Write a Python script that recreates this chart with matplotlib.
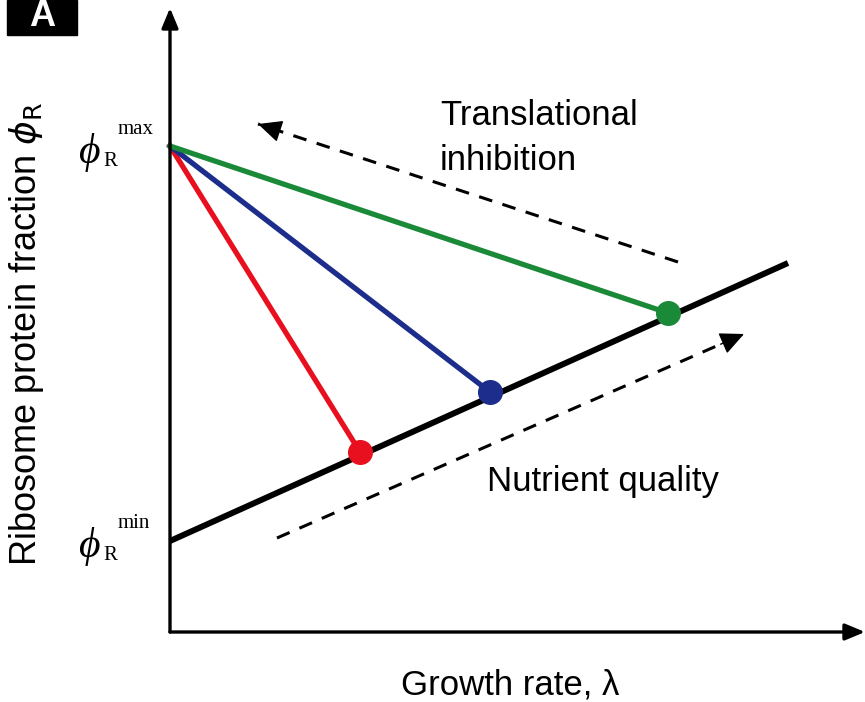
import matplotlib.pyplot as plt
from matplotlib.patches import Rectangle

# growth-law schematic: ribosome fraction vs growth rate
phi_max = 4.86
phi_min = 0.91
nutrient_line_x = [0.0, 6.18]
nutrient_line_y = [phi_min, 3.69]

# steady states reached under translational inhibition
state_colors = ["#e8101e", "#1c2d8c", "#1a8a38"]
state_x = [1.90, 3.20, 4.98]
state_y = [1.80, 2.40, 3.19]

# dashed guide arrows (tail -> head)
inhib_arrow = [(5.08, 3.70), (0.88, 5.08)]
nutrient_arrow = [(1.07, 0.94), (5.74, 2.98)]

plt.rcParams['font.family'] = ['Liberation Sans', 'DejaVu Sans']

fig = plt.figure(figsize=(8.65, 7.02), dpi=100)
ax = fig.add_axes([0, 0, 1, 1])
ax.set_xlim(-1.70, 6.95)
ax.set_ylim(-0.70, 6.32)
ax.axis("off")

# axes with arrowheads
ax.annotate("", xy=(6.95, 0), xytext=(0, 0),
            arrowprops=dict(arrowstyle="-|>,head_length=1.2,head_width=0.5",
                            lw=2.4, color="black", shrinkA=0, shrinkB=0))
ax.annotate("", xy=(0, 6.24), xytext=(0, 0),
            arrowprops=dict(arrowstyle="-|>,head_length=1.2,head_width=0.5",
                            lw=2.4, color="black", shrinkA=0, shrinkB=0))

# nutrient line
ax.plot(nutrient_line_x, nutrient_line_y, color="black", lw=4.3,
        solid_capstyle="butt", zorder=3)

# lines from phi_max to each state
for c, x, y in zip(state_colors, state_x, state_y):
    ax.plot([0, x], [phi_max, y], color=c, lw=3.8, zorder=2)
    ax.plot(x, y, "o", color=c, ms=17, zorder=4)

# dashed shafts with solid heads
for (x0, y0), (x1, y1) in [inhib_arrow, nutrient_arrow]:
    ax.plot([x0, x1], [y0, y1], color="black", lw=2.2, ls=(0, (4.5, 3.5)))
    dx, dy = x1 - x0, y1 - y0
    ax.annotate("", xy=(x1, y1), xytext=(x1 - 0.05 * dx, y1 - 0.05 * dy),
                arrowprops=dict(arrowstyle="-|>,head_length=1.5,head_width=0.7",
                                lw=1, color="black", shrinkA=0, shrinkB=0))

ax.text(2.70, 6.32 - 1.25, "Translational", fontsize=25, va="baseline",
        ha="left")
ax.text(2.70, 6.32 - 1.70, "inhibition", fontsize=25, va="baseline",
        ha="left")
ax.text(3.17, 1.50, "Nutrient quality", fontsize=25, va="center", ha="left")
ax.text(3.40, -0.53, "Growth rate, λ", fontsize=25, ha="center", va="center")
ax.text(-1.43, 2.98, r"Ribosome protein fraction $\phi_{\mathrm{R}}$",
        fontsize=26, rotation=90, ha="center", va="center")

# phi_R max / min tick labels
for yv, sup in [(phi_max, "max"), (phi_min, "min")]:
    ax.text(-0.92, yv - 0.06, "ϕ", fontsize=30, family="Liberation Serif",
            style="italic", ha="left", va="center")
    ax.text(-0.67, yv - 0.15, "R", fontsize=15, family="Liberation Serif",
            ha="left", va="center")
    ax.text(-0.52, yv + 0.17, sup, fontsize=15, family="Liberation Serif",
            ha="left", va="center")

# panel label
fig.patches.append(Rectangle((7 / 865, 1 - 35 / 702), 70 / 865, 35 / 702,
                             transform=fig.transFigure, color="black"))
fig.text(42 / 865, 1 - 16 / 702, "A", color="white", fontsize=26,
         fontweight="bold", ha="center", va="center")

fig.savefig("out.png", dpi=100)
